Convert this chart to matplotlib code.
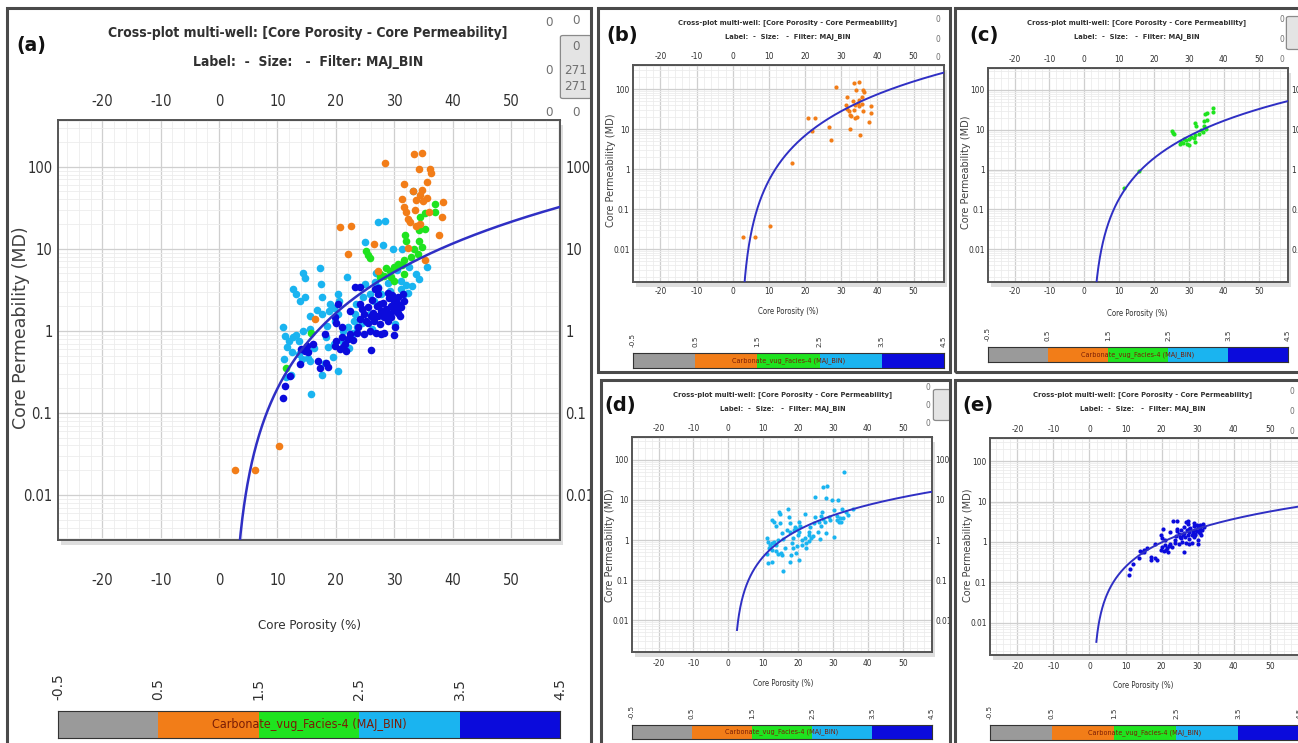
import os
import numpy as np
import matplotlib.pyplot as plt
from matplotlib import font_manager as fm
from matplotlib.patches import Rectangle, FancyBboxPatch
from matplotlib.ticker import FixedLocator, LogLocator, MultipleLocator, NullFormatter

W, H = 1298, 743

# facies 1 (orange)
phi_f1 = [33.4, 34.8, 28.4, 34.2, 36.1, 36.3, 35.7, 31.6, 34.8, 34.5, 33.7, 31.4,
          31.7, 38.3, 32.0, 32.3, 32.7, 33.7, 38.2, 20.7, 22.6, 37.7, 26.5, 22.0,
          32.4, 35.2, 27.2, 16.5, 10.2, 2.8, 6.2, 33.2, 35.0, 35.6, 33.5, 34.4, 36.0]
k_f1 = [143, 146, 110, 95, 95, 83, 65, 62, 52, 45, 39, 41,
        32, 37, 28, 23, 21, 19, 24.5, 18.4, 18.7, 14.6, 11.5, 8.7,
        10.2, 7.3, 5.4, 1.39, 0.039, 0.020, 0.020, 50, 38, 42, 30, 20, 28]

# facies 2 (green)
phi_f2 = [36.9, 37.0, 35.2, 34.5, 35.2, 34.3, 31.8, 34.2, 32.0, 25.2, 25.5, 25.8,
          33.4, 34.8, 34.0, 32.8, 31.6, 30.6, 31.4, 30.0, 28.6, 29.2, 27.6, 28.3,
          29.4, 30.0, 27.5, 31.6, 15.8, 11.4]
k_f2 = [35.6, 28, 27, 24.4, 17.6, 16.8, 14.6, 12.6, 12.6, 9.5, 8.3, 7.8,
        10, 10.5, 8.7, 7.9, 7.2, 6.5, 6.3, 6.0, 5.8, 5.4, 4.9, 4.7,
        4.5, 4.1, 4.5, 4.9, 0.95, 0.35]

# facies 3 (light blue)
phi_f3 = [33.3, 27.2, 28.4, 25.0, 28.1, 29.8, 31.4, 17.2, 14.4, 14.7, 17.5, 21.9,
          12.6, 13.1, 13.8, 17.6, 20.4, 20.5, 19.0, 19.7, 18.8, 15.5, 33.7, 34.2,
          35.7, 32.0, 32.3, 31.6, 31.1, 27.2, 25.0, 24.6, 23.5, 23.2, 23.1, 23.7,
          22.1, 22.4, 21.0, 19.6, 18.3, 18.6, 18.1, 17.6, 20.3, 15.8, 11.0, 11.3,
          12.0, 12.6, 11.7, 13.7, 14.3, 15.2, 15.5, 14.2, 11.1, 12.4, 11.4, 13.7,
          25.9, 26.6, 27.7, 29.2, 26.7, 25.8, 24.4, 23.0, 20.4, 19.9, 17.6, 18.5,
          15.6, 12.5, 13.2, 16.2, 21.2, 22.3, 26.2, 28.1, 30.4, 30.2, 33.0, 31.2,
          29.0, 16.8, 14.8, 19.5, 26.8, 32.6]
k_f3 = [50.8, 21.2, 21.8, 12.1, 11.0, 10, 10, 5.8, 5.0, 4.4, 3.7, 4.5,
        3.2, 2.8, 2.3, 2.6, 2.8, 2.3, 2.1, 1.9, 1.76, 1.53, 4.9, 4.3,
        6.0, 3.6, 2.9, 2.8, 3.2, 3.4, 3.7, 2.6, 2.1, 1.6, 1.32, 1.1,
        1.1, 0.83, 0.75, 0.69, 0.83, 0.63, 0.41, 0.29, 0.32, 0.17, 1.1, 0.87,
        0.75, 0.83, 0.63, 0.52, 1.0, 0.47, 0.43, 0.45, 0.45, 0.29, 0.27, 0.75,
        2.8, 2.3, 2.8, 3.1, 3.9, 1.6, 1.26, 0.95, 1.6, 1.32, 1.6, 1.15,
        1.05, 0.55, 0.9, 0.62, 1.0, 0.62, 1.05, 1.5, 5.5, 1.2, 3.5, 4.0,
        3.8, 1.8, 2.6, 0.48, 5.0, 6.0]

# facies 4 (blue)
phi_f4 = [23.2, 26.7, 27.2, 26.2, 28.9, 29.7, 30.0, 30.6, 31.1, 29.4, 28.6, 29.2,
          28.3, 27.7, 27.2, 26.6, 26.3, 25.5, 24.9, 24.4, 24.1, 25.5, 25.8, 26.9,
          27.7, 28.3, 30.0, 28.9, 29.4, 30.6, 22.4, 20.4, 19.9, 20.1, 18.2, 21.0,
          21.3, 20.7, 19.9, 21.8, 20.1, 22.4, 26.1, 15.1, 14.7, 13.8, 17.0, 17.2,
          11.3, 11.0, 18.3, 18.7, 31.7, 30.3, 27.5, 23.8, 24.9, 23.0, 21.0, 28.0,
          29.1, 30.6, 31.5, 29.8, 28.8, 27.6, 26.0, 31.0, 30.2, 25.1, 24.2, 27.0,
          22.1, 21.6, 23.6, 16.0, 15.2, 14.1, 12.1, 24.2, 27.2]
k_f4 = [3.4, 3.2, 2.8, 2.4, 2.9, 2.7, 2.3, 2.1, 1.93, 2.0, 1.84, 1.6,
        1.46, 1.76, 1.53, 1.32, 1.67, 1.93, 1.6, 1.84, 1.39, 1.26, 1.0, 0.95,
        0.91, 0.95, 0.89, 1.32, 1.46, 1.67, 1.73, 2.1, 1.46, 1.26, 0.91, 1.1,
        0.63, 0.6, 0.65, 0.57, 0.75, 0.91, 0.58, 0.65, 0.57, 0.39, 0.43, 0.35,
        0.21, 0.15, 0.41, 0.36, 2.3, 1.76, 2.1, 1.1, 0.91, 0.77, 0.83, 2.2,
        2.5, 2.6, 2.8, 1.9, 1.7, 1.2, 1.5, 1.5, 1.1, 1.3, 2.1, 2.0,
        0.8, 0.7, 0.95, 0.7, 0.55, 0.6, 0.28, 3.4, 3.3]

facies_colors = ['#9a9a9a', '#f27d18', '#1fe31f', '#1ab4f0', '#0b0bdc']
bin_edges = [-0.5, 0.5, 1.5, 2.5, 3.5, 4.5]
bin_labels = ['-0.5', '0.5', '1.5', '2.5', '3.5', '4.5']
x_ticks = [-20, -10, 0, 10, 20, 30, 40, 50]
y_ticks = [0.01, 0.1, 1, 10, 100]
y_labels = ['0.01', '0.1', '1', '10', '100']

# trend fits, log10(k) = c0 + c1*log10(phi - phi0), drawn from phi_start
fit_a = dict(c0=-3.06, c1=2.61, phi0=2.0, phi_start=2.05)
fit_b = dict(c0=-3.14, c1=3.17, phi0=2.0, phi_start=2.05)
fit_c = dict(c0=-3.34, c1=2.89, phi0=2.0, phi_start=2.05)
fit_d = dict(c0=-2.25, c1=1.97, phi0=1.5, phi_start=2.5)
fit_e = dict(c0=-2.39, c1=1.86, phi0=1.0, phi_start=1.9)

title1 = 'Cross-plot multi-well: [Core Porosity - Core Permeability]'
title2 = 'Label:  -  Size:   -  Filter: MAJ_BIN'
bar_label = 'Carbonate_vug_Facies-4 (MAJ_BIN)'


def narrow_font(bold=False):
    """Look for an installed narrow/condensed sans face, else plain DejaVu."""
    prefs = ['liberationsansnarrow', 'dejavusanscondensed', 'notosans-condensed',
             'notosanscondensed', 'robotocondensed', 'roboto_condensed',
             'opensans-condensed', 'opensans_condensed', 'opensanscondensed']
    skip = ['italic', 'oblique', 'light', 'thin', 'medium', 'black', 'semi',
            'extra', 'ultra', 'demi']
    found = {}
    for f in fm.fontManager.ttflist:
        base = os.path.basename(f.fname).lower().replace(' ', '')
        if any(s in base for s in skip):
            continue
        if ('bold' in base) != bold:
            continue
        for i, p in enumerate(prefs):
            if base.startswith(p):
                found.setdefault(i, f.fname)
    if found:
        return fm.FontProperties(fname=found[min(found)])
    return fm.FontProperties(family='DejaVu Sans', weight='bold' if bold else 'normal')


NARROW = narrow_font()
NARROW_B = narrow_font(bold=True)
WIDE = fm.FontProperties(family='DejaVu Sans')


def rect(l, t, r, b):
    return [l / W, 1 - b / H, (r - l) / W, (b - t) / H]


def ftext(fig, x, y, s, **kw):
    return fig.text(x / W, 1 - y / H, s, **kw)


def crossplot(fig, p):
    s = p['scale']
    # panel frame
    l, t, r, b = p['frame']
    fig.add_artist(Rectangle((l / W, 1 - b / H), (r - l) / W, (b - t) / H,
                             transform=fig.transFigure, fill=False,
                             ec='#4a4a4a', lw=2.2, zorder=5))
    l, t, r, b = p['axes']
    fig.add_artist(Rectangle(((l + 3) / W, 1 - (b + 5) / H), (r - l) / W, (b - t) / H,
                             transform=fig.transFigure, fc='#c8c8c8', ec='none',
                             alpha=0.6, zorder=-1))
    ax = fig.add_axes(rect(*p['axes']))
    ax.set_facecolor('white')
    ax.set_yscale('log')
    ax.set_xlim(-27.6, 58.4)
    ax.set_ylim(*p['ylim'])

    for phi, k, col in p['series']:
        ax.scatter(phi, k, s=p['ms'], color=col, lw=0, zorder=3)

    f = p['fit']
    phi = np.linspace(f['phi_start'], 60, 600)
    ax.plot(phi, 10 ** (f['c0'] + f['c1'] * np.log10(phi - f['phi0'])),
            color='#2f2fc4', lw=p['lw'], zorder=4)

    ax.xaxis.set_major_locator(FixedLocator(x_ticks))
    ax.xaxis.set_minor_locator(MultipleLocator(2))
    ax.yaxis.set_major_locator(FixedLocator(y_ticks))
    ax.yaxis.set_minor_locator(LogLocator(base=10, subs=np.arange(2, 10)))
    ax.yaxis.set_minor_formatter(NullFormatter())
    ax.set_xticklabels([str(v) for v in x_ticks], fontproperties=NARROW,
                       fontsize=s['tick'], color='#303030')
    ax.set_yticklabels(y_labels, fontproperties=NARROW, fontsize=s['tick'],
                       color='#303030')
    ax.tick_params(which='both', length=0)
    ax.tick_params(axis='x', pad=p['pad_bottom'])
    ax.tick_params(axis='y', pad=p['pad_y'], labelright=p['right'])
    ax.grid(which='major', color='#cfcfcf', lw=0.9)
    ax.grid(which='minor', color='#ececec', lw=0.6)
    ax.set_axisbelow(True)
    for sp in ax.spines.values():
        sp.set_color('#555555')
        sp.set_linewidth(1.4)

    top = ax.secondary_xaxis('top')
    top.set_xticks(x_ticks, [str(v) for v in x_ticks], fontproperties=NARROW,
                   fontsize=s['tick'], color='#303030')
    top.tick_params(length=0, pad=p['pad_top'])

    cx, cy = p['title_xy']
    ftext(fig, cx, cy, title1, fontproperties=NARROW_B, fontsize=s['title'],
          ha='center', va='center', color='#303030')
    ftext(fig, cx, cy + s['line'], title2, fontproperties=NARROW_B,
          fontsize=s['title'], ha='center', va='center', color='#303030')
    ftext(fig, *p['letter_xy'], p['letter'], weight='bold', fontsize=s['letter'],
          ha='center', va='center', color='#111111')
    ftext(fig, *p['xlabel_xy'], 'Core Porosity (%)', fontproperties=NARROW,
          fontsize=s['label'], ha='center', va='center', color='#303030')
    ftext(fig, *p['ylabel_xy'], 'Core Permeability (MD)', fontproperties=WIDE,
          fontsize=s['ylabel'], ha='center', va='center', rotation=90, color='#404040')

    # facies colour bar
    cax = fig.add_axes(rect(*p['bar']))
    cax.bar(bin_edges[:-1], [1] * 5, width=1, align='edge', color=facies_colors)
    cax.set_xlim(-0.5, 4.5)
    cax.set_ylim(0, 1)
    cax.set_yticks([])
    cax.xaxis.tick_top()
    cax.set_xticks(bin_edges, bin_labels, rotation=90, fontproperties=WIDE,
                   fontsize=s['bar_tick'], color='#303030')
    cax.tick_params(length=0, pad=p['bar_pad'])
    for sp in cax.spines.values():
        sp.set_color('#333333')
        sp.set_linewidth(0.8)
    cax.text(2.0, 0.5, bar_label, fontproperties=NARROW, fontsize=s['bar_text'],
             ha='center', va='center', color='#7a1d05')

    for x, y, txt in p['counters']:
        ftext(fig, x, y, txt, fontproperties=NARROW, fontsize=s['counter'],
              ha='center', va='center', color='#707070')
    if p.get('counter_box'):
        bl, bt, br, bb = p['counter_box']
        fig.add_artist(FancyBboxPatch((bl / W, 1 - bb / H), (br - bl) / W, (bb - bt) / H,
                                      boxstyle='round,pad=0.002', transform=fig.transFigure,
                                      fc='#e4e4e4', ec='#8a8a8a', lw=0.9, zorder=2))
    return ax


big = dict(tick=10.5, title=10, line=29, letter=13.5, label=9.5, ylabel=12.5,
           bar_tick=10, bar_text=9, counter=9.5)
small = dict(tick=6, title=5.4, line=14, letter=14, label=5.6, ylabel=7,
             bar_tick=5.2, bar_text=5.2, counter=6)

all_series = [(phi_f3, k_f3, facies_colors[3]), (phi_f4, k_f4, facies_colors[4]),
              (phi_f2, k_f2, facies_colors[2]), (phi_f1, k_f1, facies_colors[1])]

panels = [
    dict(scale=big, frame=(7, 8, 591, 760), axes=(58, 120, 560, 540),
         ylim=(10 ** -2.55, 10 ** 2.57), series=all_series, fit=fit_a, ms=30, lw=1.8,
         pad_bottom=24, pad_top=8, pad_y=4, right=True,
         title_xy=(308, 33), letter_xy=(31, 46), letter='(a)',
         xlabel_xy=(310, 625), ylabel_xy=(21, 328), bar=(58, 711, 560, 738), bar_pad=8,
         counters=[(549, 22, '0'), (576, 20, '0'), (576, 47, '0'), (549, 70, '0'),
                   (576, 71, '271'), (576, 87, '271'), (549, 113, '0'), (576, 113, '0')],
         counter_box=(563, 37, 589, 97)),
    dict(scale=small, frame=(598, 8, 950, 372), axes=(633, 65, 944, 282),
         ylim=(10 ** -2.82, 10 ** 2.6), series=[(phi_f1, k_f1, facies_colors[1])],
         fit=fit_b, ms=9, lw=1.4, pad_bottom=3.5, pad_top=3, pad_y=2.5, right=False,
         title_xy=(788, 23), letter_xy=(622, 35), letter='(b)',
         xlabel_xy=(788, 311), ylabel_xy=(611, 170), bar=(633, 353, 944, 368), bar_pad=4,
         counters=[(938, 20, '0'), (938, 40, '0'), (938, 58, '0')]),
    dict(scale=small, frame=(955, 8, 1310, 372), axes=(988, 68, 1288, 282),
         ylim=(10 ** -2.82, 10 ** 2.55), series=[(phi_f2, k_f2, facies_colors[2])],
         fit=fit_c, ms=9, lw=1.4, pad_bottom=3.5, pad_top=3, pad_y=2.5, right=True,
         title_xy=(1137, 23), letter_xy=(984, 35), letter='(c)',
         xlabel_xy=(1137, 313), ylabel_xy=(966, 172), bar=(988, 347, 1288, 362), bar_pad=4,
         counters=[(1282, 20, '0'), (1282, 40, '0'), (1282, 60, '0')],
         counter_box=(1289, 18, 1300, 48)),
    dict(scale=small, frame=(601, 380, 950, 760), axes=(632, 437, 932, 652),
         ylim=(10 ** -2.8, 10 ** 2.575), series=[(phi_f3, k_f3, facies_colors[3])],
         fit=fit_d, ms=9, lw=1.4, pad_bottom=5, pad_top=3, pad_y=2.5, right=True,
         title_xy=(783, 395), letter_xy=(620, 405), letter='(d)',
         xlabel_xy=(783, 683), ylabel_xy=(610, 545), bar=(632, 725, 932, 739), bar_pad=4,
         counters=[(928, 388, '0'), (928, 406, '0'), (928, 424, '0')],
         counter_box=(936, 391, 948, 419)),
    dict(scale=small, frame=(955, 380, 1310, 760), axes=(990, 438, 1300, 655),
         ylim=(10 ** -2.8, 10 ** 2.575), series=[(phi_f4, k_f4, facies_colors[4])],
         fit=fit_e, ms=9, lw=1.4, pad_bottom=5, pad_top=3, pad_y=2.5, right=False,
         title_xy=(1143, 395), letter_xy=(978, 405), letter='(e)',
         xlabel_xy=(1143, 685), ylabel_xy=(968, 545), bar=(990, 725, 1300, 740), bar_pad=4,
         counters=[(1292, 392, '0'), (1292, 412, '0'), (1292, 432, '0')]),
]

fig = plt.figure(figsize=(W / 100, H / 100), dpi=100)
fig.patch.set_facecolor('white')
for p in panels:
    crossplot(fig, p)

fig.savefig('out.png', dpi=100)
